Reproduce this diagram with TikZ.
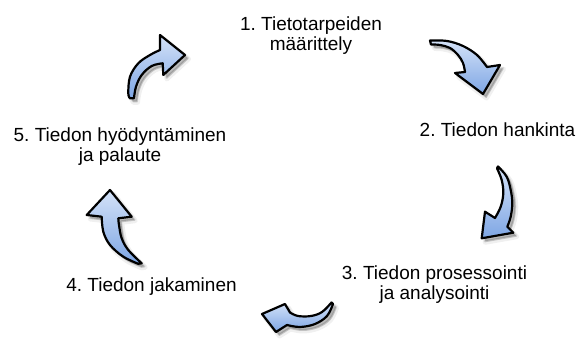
\documentclass[tikz,border=0pt]{standalone}
\usepackage{fontspec}
\setmainfont{Liberation Sans}
\frenchspacing
\definecolor{arrowlight}{RGB}{212,226,248}
\definecolor{arrowdark}{RGB}{126,166,228}
\begin{document}
\begin{tikzpicture}[x=1pt,y=-1pt,
  steptext/.style={align=center, font=\fontsize{19}{20}\selectfont, inner sep=0pt, anchor=base},
  arrowbody/.style={draw=black, line width=2.2pt, line join=round, line cap=round,
    top color=arrowlight, bottom color=arrowdark},
  softshadow/.style={fill=black, fill opacity=0.10, draw=black, draw opacity=0.06, line width=5pt, line join=round},
  coreshadow/.style={fill=black, fill opacity=0.18, draw=black, draw opacity=0.10, line width=2pt, line join=round},
  % curved arrow outlines: outer edge, head, inner edge
  arrowA/.style={insert path={plot[smooth,tension=0.6] coordinates{(430,40.5)(447,41)(463,46)(477,55)(487,67)}
     -- (500,65) -- (483,94) -- (455,73)
     -- plot[smooth,tension=0.6] coordinates{(465,72)(463,63)(458,55)(450,48)(440,45)(431,44.5)} -- cycle}},
  arrowB/.style={insert path={plot[smooth,tension=0.6] coordinates{(498,166.5)(506.7,176.7)(510.7,190)(512.3,203.3)(510.7,216.7)(507.3,226.7)}
     -- (513.3,232.7) -- (481.7,238.3) -- (485,211.7)
     -- plot[smooth,tension=0.6] coordinates{(495,218)(500.7,206.7)(503.3,193.3)(501.7,180)(497,168.3)} -- cycle}},
  arrowC/.style={insert path={plot[smooth,tension=0.6] coordinates{(331.5,302.5)(322,312)(311,316)(298,316)(290,312.5)}
     -- (285,304) -- (262,314) -- (276,332)
     -- plot[smooth,tension=0.6] coordinates{(287,325)(300,327)(315,324)(327,316)(333,304)} -- cycle}},
  arrowD/.style={insert path={plot[smooth,tension=0.6] coordinates{(141.7,263.3)(128.3,250)(121.7,238.3)(119,225)(118.3,218.3)}
     -- (131.7,216.7) -- (110,190) -- (86.7,215)
     -- plot[smooth,tension=0.6] coordinates{(101.7,216.7)(103.3,231.7)(110,245)(123.3,256.7)(138.3,263.8)} -- cycle}},
  arrowE/.style={insert path={plot[smooth,tension=0.6] coordinates{(130,98.3)(128.3,93.3)(130,76.7)(138.3,63.3)(150,55)(160,50)}
     -- (160,35) -- (185,55) -- (163.3,75)
     -- plot[smooth,tension=0.6] coordinates{(162.7,63.3)(151.7,66)(141.7,75)(136,86.7)(134,98.3)} -- cycle}},
]
\useasboundingbox (0,0) rectangle (579,339);

% drop shadows
\foreach \a in {arrowA,arrowB,arrowC,arrowD,arrowE}{
  \path[softshadow, shift={(3.5,4)}] [\a];
  \path[coreshadow, shift={(3,3)}] [\a];
}
% arrows
\path[arrowbody] [arrowA];
\path[arrowbody] [arrowB];
\path[arrowbody] [arrowC];
\path[arrowbody] [arrowD];
\path[arrowbody] [arrowE];

% step labels (base anchor sits on the last line)
\node[steptext] (s1) at (311,51) {1. Tietotarpeiden\\määrittely};
\node[steptext] (s2) at (497.5,136.7) {2. Tiedon hankinta};
\node[steptext] (s3) at (434.5,300) {3. Tiedon prosessointi\\ja analysointi};
\node[steptext] (s4) at (151.5,291.7) {4. Tiedon jakaminen};
\node[steptext] (s5) at (120,161.7) {5. Tiedon hyödyntäminen\\ja palaute};
\end{tikzpicture}
\end{document}
